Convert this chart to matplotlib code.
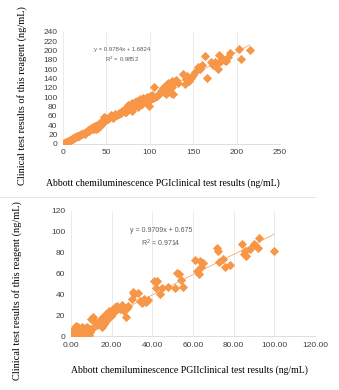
#!/usr/bin/env python3
"""Method comparison scatter plots: PGI (top) and PGII (bottom) vs. Abbott."""

import matplotlib

matplotlib.use("Agg")
import matplotlib.pyplot as plt
from matplotlib.patches import Rectangle

# PGI comparison (ng/mL)
PGI_ABBOTT = [
    1, 2, 3, 4, 5, 6, 7, 8, 9, 10, 11, 12, 13, 14, 15, 16, 17, 18, 19, 20,
    21, 22, 24, 25, 27, 29, 30, 32, 33, 35, 36, 37, 38, 39, 40, 41, 42, 43,
    44, 45, 46, 47, 48, 50, 52, 54, 55, 57, 58, 60, 62, 64, 65, 67, 68, 70,
    71, 72, 73, 74, 75, 76, 77, 78, 79, 80, 81, 82, 83, 84, 85, 86, 88, 89,
    90, 91, 92, 93, 95, 96, 97, 98, 99, 100, 101, 102, 103, 104, 105, 106,
    108, 110, 112, 113, 115, 116, 117, 118, 119, 120, 121, 122, 123, 124,
    125, 126, 127, 128, 130, 132, 138, 140, 142, 143, 145, 148, 150, 152,
    155, 158, 160, 163, 166, 170, 173, 175, 177, 178, 180, 182, 183, 185,
    188, 190, 192, 203, 205, 215,
]
PGI_REAGENT = [
    2, 1, 4, 3, 5, 7, 6, 9, 8, 11, 10, 13, 12, 15, 14, 18, 16, 17, 20, 19,
    22, 21, 24, 22, 26, 30, 28, 34, 32, 36, 33, 38, 31, 40, 35, 42, 38, 44,
    46, 50, 45, 58, 52, 55, 53, 57, 62, 60, 56, 65, 63, 67, 64, 66, 70, 72,
    69, 75, 68, 80, 83, 78, 74, 85, 70, 88, 76, 82, 90, 86, 92, 80, 84, 96,
    88, 85, 98, 90, 95, 93, 100, 97, 82, 102, 96, 99, 104, 98, 122, 100,
    103, 106, 110, 114, 120, 112, 118, 124, 108, 126, 130, 116, 128, 110,
    122, 134, 106, 132, 138, 130, 150, 128, 140, 145, 135, 142, 148, 155,
    165, 160, 170, 188, 141, 175, 170, 176, 172, 160, 190, 178, 183, 180,
    178, 186, 196, 204, 183, 201,
]
PGI_FIT = (0.9784, 1.6824)
PGI_R2 = 0.9852

# PGII comparison (ng/mL)
PGII_ABBOTT = [
    0.3, 0.5, 0.8, 1.0, 1.2, 1.5, 1.8, 2.0, 2.2, 2.5, 2.8, 3.0, 3.2, 3.5,
    3.8, 4.0, 4.3, 4.6, 5.0, 5.3, 5.6, 6.0, 6.4, 6.8, 7.2, 7.6, 8.0, 8.4,
    8.8, 9.2, 9.6, 10.0, 10.5, 11.0, 12.0, 13.0, 14.0, 15.0, 15.5, 16.0,
    16.5, 17.0, 17.5, 18.0, 18.5, 19.0, 19.5, 20.0, 20.5, 21.0, 21.5, 22.0,
    22.5, 23.0, 24.0, 25.0, 26.0, 27.0, 27.5, 28.0, 30.0, 30.5, 31.0, 33.0,
    34.0, 35.0, 36.0, 37.0, 38.0, 41.0, 42.0, 42.5, 44.0, 45.0, 48.0, 51.0,
    52.0, 53.0, 54.0, 55.0, 61.0, 62.0, 63.0, 63.5, 64.0, 65.0, 72.0, 72.5,
    73.0, 75.0, 76.0, 78.0, 84.0, 85.0, 85.5, 86.0, 88.0, 90.0, 92.0, 92.5,
    100.0,
]
PGII_REAGENT = [
    1, 5, 2, 3, 6, 0, 4, 8, 2, 10, 1, 6, 3, 9, 0, 5, 2, 7, 4, 9, 1, 6, 3,
    8, 2, 5, 9, 3, 1, 6, 4, 16, 7, 18, 14, 11, 13, 16, 9, 18, 12, 20, 15,
    22, 17, 24, 19, 21, 26, 23, 28, 25, 29, 27, 26, 30, 24, 18, 27, 29, 36,
    42, 40, 41, 34, 32, 36, 33, 35, 53, 46, 53, 40, 46, 47, 46, 61, 60, 54,
    47, 73, 62, 60, 72, 66, 70, 85, 82, 71, 74, 66, 68, 88, 79, 82, 77, 84,
    88, 85, 94, 82,
]
PGII_FIT = (0.9709, 0.675)
PGII_R2 = 0.9714

PGI_XTICKS = [0, 50, 100, 150, 200, 250]
PGI_YTICKS = [0, 20, 40, 60, 80, 100, 120, 140, 160, 180, 200, 220, 240]
PGII_XTICKS = [0, 20, 40, 60, 80, 100, 120]
PGII_YTICKS = [0, 20, 40, 60, 80, 100, 120]

ORANGE = "#F79646"
TEXT_GRAY = "#595959"
TICK_GRAY = "#404040"
GRID = "#E8E8E8"
Y_LABEL = "Clinical test results of this reagent (ng/mL)"


def draw_panel(ax, x, y, fit, r2, xticks, yticks, xfmt, eq_xy, eq_size):
    slope, intercept = fit
    ax.scatter(x, y, marker="D", s=22, color=ORANGE, linewidths=0, zorder=3)
    xs = [min(x), max(x)]
    ax.plot(xs, [slope * v + intercept for v in xs], color=ORANGE,
            linewidth=0.6, alpha=0.8, zorder=2)

    ax.set_xlim(xticks[0], xticks[-1])
    ax.set_ylim(yticks[0], yticks[-1])
    ax.set_xticks(xticks)
    ax.set_yticks(yticks)
    ax.set_xticklabels([xfmt.format(v) for v in xticks])
    ax.tick_params(length=0, labelsize=6, colors=TICK_GRAY, pad=4)
    for lab in ax.get_xticklabels() + ax.get_yticklabels():
        lab.set_family("Liberation Sans")
    ax.grid(axis="x", color=GRID, linewidth=0.6)
    for side in ["top", "right", "left"]:
        ax.spines[side].set_visible(False)
    ax.spines["bottom"].set_color("#D9D9D9")
    ax.spines["bottom"].set_linewidth(0.6)

    sign = "+" if intercept >= 0 else "-"
    ax.text(eq_xy[0], eq_xy[1],
            f"y = {slope}x {sign} {abs(intercept)}\nR$^2$ = {r2}",
            transform=ax.transAxes, ha="center", va="top", fontsize=eq_size,
            color=TEXT_GRAY, family="Liberation Sans", linespacing=1.4)


def main() -> None:
    fig = plt.figure(figsize=(3.39, 3.90), dpi=100)
    fig.patch.set_facecolor("white")

    ax_top = fig.add_axes([0.186, 0.631, 0.640, 0.287])
    draw_panel(ax_top, PGI_ABBOTT, PGI_REAGENT, PGI_FIT, PGI_R2,
               PGI_XTICKS, PGI_YTICKS, "{:d}", (0.27, 0.87), 4.3)
    fig.text(0.48, 0.531,
             "Abbott chemiluminescence PGIclinical test results (ng/mL)",
             ha="center", va="center", fontsize=7, family="Liberation Serif")
    fig.text(0.065, 0.755, Y_LABEL, rotation=90, ha="center", va="center",
             fontsize=7.5, family="Liberation Serif")

    # thin divider between the two panels
    fig.add_artist(plt.Line2D([0.0, 0.93], [0.495, 0.495],
                              color="#E0E0E0", linewidth=0.6))

    ax_bot = fig.add_axes([0.209, 0.138, 0.720, 0.321])
    draw_panel(ax_bot, PGII_ABBOTT, PGII_REAGENT, PGII_FIT, PGII_R2,
               PGII_XTICKS, PGII_YTICKS, "{:.2f}", (0.37, 0.87), 5)
    fig.text(0.56, 0.051,
             "Abbott chemiluminescence PGIIclinical test results (ng/mL)",
             ha="center", va="center", fontsize=7, family="Liberation Serif")
    ylab = fig.text(0.05, 0.255, Y_LABEL, rotation=90, ha="center",
                    va="center", fontsize=7.5, family="Liberation Serif")
    # lower panel's label is cut off at the divider
    ylab.set_clip_path(Rectangle((0, 0), 1, 0.495, transform=fig.transFigure))

    fig.savefig("out.png", dpi=100, facecolor="white")
    plt.close(fig)


if __name__ == "__main__":
    main()
